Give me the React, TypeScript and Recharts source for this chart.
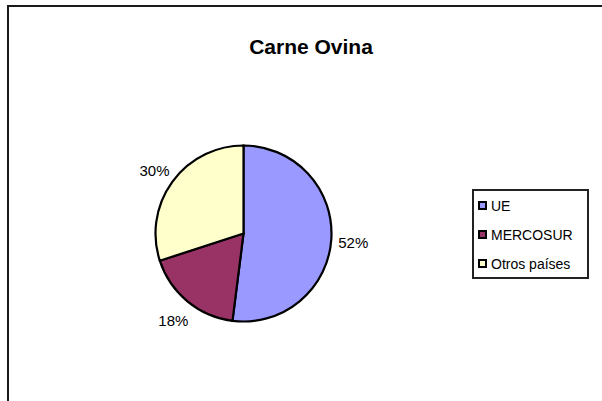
import React from 'react';
import { PieChart, Pie, Cell, Legend } from 'recharts';

const CATEGORIES = ['UE', 'MERCOSUR', 'Otros países'];
const VALUES = [52, 18, 30];
const COLORS = ['#9999FF', '#993366', '#FFFFCC'];

const data = CATEGORIES.map((name, i) => ({ name, value: VALUES[i] }));

const FONT = '"Liberation Sans", Arial, sans-serif';
const RAD = Math.PI / 180;

const renderLabel = (props: any) => {
  const { cx, cy, midAngle, outerRadius, value } = props;
  const r = outerRadius + 22;
  const x = cx + r * Math.cos(-midAngle * RAD);
  const y = cy + r * Math.sin(-midAngle * RAD) + 2;
  return (
    <text x={x} y={y} textAnchor="middle" dominantBaseline="central" fill="#000" fontSize={15} fontFamily={FONT}>
      {`${value}%`}
    </text>
  );
};

const renderLegend = () => (
  <div
    style={{
      width: 117,
      height: 90,
      border: '2px solid #222',
      background: '#fff',
      boxSizing: 'border-box',
      fontFamily: FONT,
      fontSize: 14,
      color: '#000',
      textAlign: 'left',
    }}
  >
    {CATEGORIES.map((name, i) => (
      <div key={name} style={{ display: 'flex', alignItems: 'center', height: 29, paddingLeft: 4 }}>
        <span
          style={{
            display: 'inline-block',
            width: 5,
            height: 5,
            background: COLORS[i],
            border: '2px solid #000',
            marginRight: 4,
          }}
        />
        <span>{name}</span>
      </div>
    ))}
  </div>
);

const App: React.FC = () => {
  return (
    <div style={{ position: 'absolute', left: 0, top: 0, width: 602, height: 401, background: '#fff', overflow: 'hidden' }}>
      <div
        style={{
          position: 'absolute',
          left: 7,
          top: 5,
          width: 610,
          height: 410,
          borderLeft: '2px solid #1a1a1a',
          borderTop: '2px solid #1a1a1a',
        }}
      />
      <div
        style={{
          position: 'absolute',
          left: 0,
          width: 622,
          top: 34,
          textAlign: 'center',
          fontFamily: FONT,
          fontWeight: 'bold',
          fontSize: 21,
          lineHeight: '26px',
          color: '#000',
        }}
      >
        Carne Ovina
      </div>
      <PieChart width={602} height={401} style={{ position: 'absolute', left: 0, top: 0 }}>
        <Pie
          data={data}
          dataKey="value"
          nameKey="name"
          cx={238.5}
          cy={228.5}
          outerRadius={88}
          startAngle={90}
          endAngle={-270}
          stroke="#000"
          strokeWidth={2.2}
          label={renderLabel}
          labelLine={false}
          isAnimationActive={false}
        >
          {data.map((_, index) => (
            <Cell key={`cell-${index}`} fill={COLORS[index]} />
          ))}
        </Pie>
        <Legend content={renderLegend} wrapperStyle={{ position: 'absolute', left: 472, top: 189, width: 117, height: 90 }} />
      </PieChart>
    </div>
  );
};

export default App;
